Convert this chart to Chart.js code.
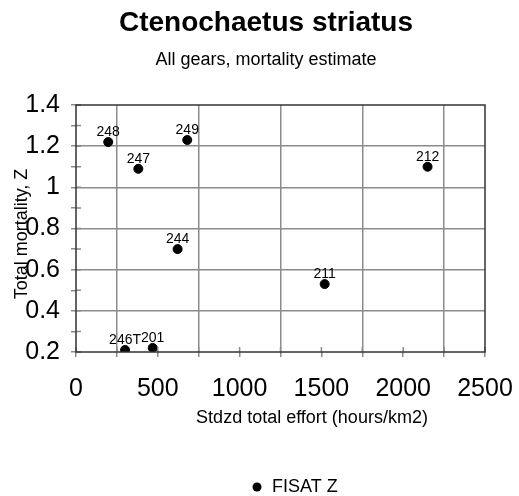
<!DOCTYPE html>
<html>
<head>
<meta charset="utf-8">
<script src="https://cdn.jsdelivr.net/npm/chart.js@4"></script>
<style>
  html, body { margin: 0; padding: 0; background: #fff; }
  #c { display: block; }
</style>
</head>
<body>
<canvas id="c" width="519" height="496"></canvas>
<script>
// data
const siteLabels = ['248', '249', '247', '244', '246T', '201', '212', '211'];
const effortValues = [197, 680, 381, 621, 300, 469, 2149, 1520];
const mortalityZ = [1.22, 1.23, 1.09, 0.70, 0.21, 0.22, 1.10, 0.53];
const xTickLabels = ['0', '500', '1000', '1500', '2000', '2500'];
const yTickLabels = ['0.2', '0.4', '0.6', '0.8', '1', '1.2', '1.4'];
const seriesName = 'FISAT Z';

const FONT = "'Liberation Sans', Arial, sans-serif";
const GRID = '#8c8c8c';
const AXIS = '#333333';

const points = effortValues.map((x, i) => ({ x: x, y: mortalityZ[i] }));

// titles, rotated y title, legend and point labels drawn on the canvas
const textPlugin = {
    id: 'texts',
    afterDatasetsDraw(chart) {
        const ctx = chart.ctx;
        const area = chart.chartArea;
        ctx.save();
        ctx.fillStyle = '#000';
        ctx.textAlign = 'center';
        ctx.textBaseline = 'middle';
        ctx.font = 'bold 28px ' + FONT;
        ctx.fillText('Ctenochaetus striatus', 266, 23);
        ctx.font = '18px ' + FONT;
        ctx.fillText('All gears, mortality estimate', 266, 60);
        ctx.font = '18px ' + FONT;
        ctx.fillText('Stdzd total effort (hours/km2)', 312, 418);

        ctx.save();
        ctx.translate(22, 234);
        ctx.rotate(-Math.PI / 2);
        ctx.font = '18px ' + FONT;
        ctx.fillText('Total mortality, Z', 0, 0);
        ctx.restore();

        // inner half of the tick marks
        ctx.strokeStyle = GRID;
        ctx.lineWidth = 1.5;
        ctx.beginPath();
        chart.scales.x.ticks.forEach((t) => {
            const px = chart.scales.x.getPixelForValue(t.value);
            ctx.moveTo(px, area.bottom - 5);
            ctx.lineTo(px, area.bottom);
        });
        chart.scales.y.ticks.forEach((t) => {
            const py = chart.scales.y.getPixelForValue(t.value);
            ctx.moveTo(area.left, py);
            ctx.lineTo(area.left + 5, py);
        });
        ctx.stroke();

        // frame round the plot
        ctx.strokeStyle = AXIS;
        ctx.lineWidth = 1.5;
        ctx.strokeRect(area.left, area.top, area.right - area.left, area.bottom - area.top);

        const meta = chart.getDatasetMeta(0);
        ctx.font = '14px ' + FONT;
        ctx.textBaseline = 'bottom';
        meta.data.forEach((pt, i) => {
            ctx.fillText(siteLabels[i], pt.x, pt.y - 3);
        });

        // legend
        ctx.beginPath();
        ctx.arc(257, 487, 4.5, 0, Math.PI * 2);
        ctx.fill();
        ctx.textAlign = 'left';
        ctx.textBaseline = 'middle';
        ctx.font = '18px ' + FONT;
        ctx.fillText(seriesName, 272, 487);
        ctx.restore();
    }
};

const ctx = document.getElementById('c').getContext('2d');
const chart = new Chart(ctx, {
    type: 'scatter',
    data: {
        datasets: [{
            label: seriesName,
            data: points,
            backgroundColor: '#000',
            borderColor: '#000',
            pointRadius: 4.5,
            pointHoverRadius: 4.5
        }]
    },
    options: {
        responsive: false,
        animation: false,
        layout: { padding: { top: 105, right: 34, left: 0, bottom: 0 } },
        plugins: {
            tooltip: { enabled: false },
            legend: { display: false }
        },
        scales: {
            x: {
                type: 'linear',
                min: 0,
                max: 2500,
                afterFit(scale) {
                    scale.height = 144;
                    scale.paddingLeft = 0;
                    scale.paddingRight = 0;
                },
                ticks: {
                    stepSize: 250,
                    color: '#000',
                    padding: 17,
                    maxRotation: 0,
                    autoSkip: false,
                    font: { family: FONT, size: 25 },
                    callback: (v) => (v % 500 === 0 ? xTickLabels[v / 500] : '')
                },
                grid: {
                    color: (c) => (c.tick && c.tick.value % 500 === 250 ? GRID : 'rgba(0,0,0,0)'),
                    tickColor: GRID,
                    tickLength: 5,
                    lineWidth: 1.5
                },
                border: { display: false }
            },
            y: {
                type: 'linear',
                min: 0.2,
                max: 1.4,
                afterFit(scale) {
                    scale.width = 76;
                    scale.paddingTop = 0;
                    scale.paddingBottom = 0;
                },
                ticks: {
                    stepSize: 0.1,
                    color: '#000',
                    padding: 11,
                    autoSkip: false,
                    font: { family: FONT, size: 25 },
                    callback: (v) => {
                        const k = Math.round(v * 10);
                        return k % 2 === 0 ? yTickLabels[(k - 2) / 2] : '';
                    }
                },
                grid: {
                    color: (c) => {
                        if (!c.tick) return 'rgba(0,0,0,0)';
                        const k = Math.round(c.tick.value * 10);
                        return (k % 2 === 0 && k > 2 && k < 14) ? GRID : 'rgba(0,0,0,0)';
                    },
                    tickColor: GRID,
                    tickLength: 5,
                    lineWidth: 1.5
                },
                border: { display: false }
            }
        }
    },
    plugins: [textPlugin]
});
</script>
</body>
</html>
